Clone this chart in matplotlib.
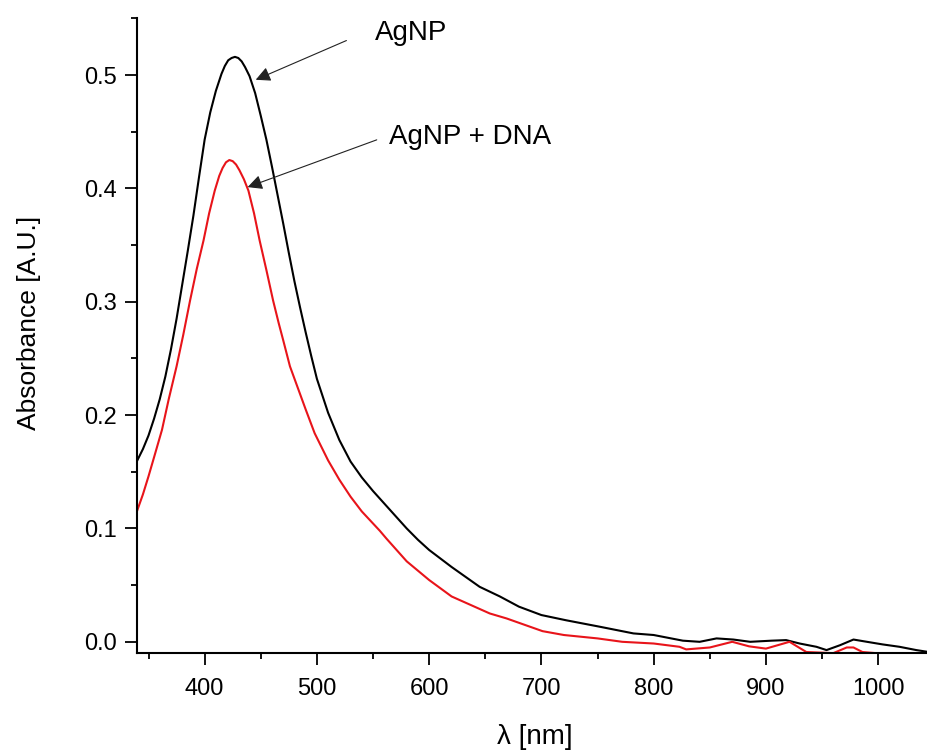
import matplotlib
matplotlib.use("Agg")
import matplotlib.pyplot as plt
from matplotlib.ticker import MultipleLocator

plt.rcParams['font.family'] = ['Liberation Sans', 'DejaVu Sans']

# AgNP (black)
wl_agnp = [340, 345, 350, 355, 360, 365, 370, 375, 380, 385, 390, 395, 400, 405, 410, 415,
           418, 421, 424, 427, 430, 433, 436, 440, 445, 450, 455, 460, 465, 470, 475, 480,
           485, 490, 495, 500, 510, 520, 530, 540, 550, 560, 570, 580, 590, 600, 620, 645,
           663, 680, 700, 722, 752, 782, 800, 826, 841, 856, 871, 886, 905, 918, 930, 945,
           954, 966, 978, 990, 1004, 1019, 1034, 1045]
abs_agnp = [0.160, 0.170, 0.182, 0.197, 0.214, 0.234, 0.258, 0.285, 0.315, 0.345, 0.376, 0.410,
            0.443, 0.467, 0.486, 0.501, 0.508, 0.513, 0.515, 0.516, 0.515, 0.512, 0.507, 0.499,
            0.484, 0.464, 0.443, 0.419, 0.394, 0.369, 0.343, 0.318, 0.295, 0.273, 0.252, 0.232,
            0.202, 0.178, 0.159, 0.145, 0.133, 0.122, 0.111, 0.100, 0.090, 0.081, 0.066, 0.0485,
            0.040, 0.031, 0.0236, 0.019, 0.0133, 0.0074, 0.006, 0.001, 0.000, 0.003, 0.002,
            0.000, 0.001, 0.0015, -0.0015, -0.0044, -0.0073, -0.003, 0.002, 0.000, -0.0023,
            -0.0044, -0.0073, -0.009]

# AgNP + DNA (red)
wl_dna = [340, 345, 350, 355, 362, 368, 375, 381, 387, 393, 399, 404, 409, 413, 416, 419,
          422, 425, 428, 431, 435, 439, 444, 449, 455, 461, 466, 470, 476, 483, 490, 498,
          510, 520, 530, 540, 556, 562, 580, 600, 620, 654, 669, 685, 701, 720, 750, 772,
          800, 823, 829, 850, 870, 885, 900, 921, 936, 960, 972, 978, 986, 998, 1010, 1045]
abs_dna = [0.116, 0.130, 0.146, 0.163, 0.187, 0.214, 0.243, 0.271, 0.301, 0.329, 0.354, 0.378,
           0.398, 0.411, 0.418, 0.423, 0.425, 0.424, 0.421, 0.416, 0.408, 0.398, 0.378, 0.354,
           0.328, 0.301, 0.281, 0.266, 0.243, 0.224, 0.205, 0.184, 0.160, 0.143, 0.128, 0.115,
           0.098, 0.091, 0.071, 0.0545, 0.040, 0.025, 0.0206, 0.015, 0.0094, 0.006, 0.003,
           0.000, -0.0015, -0.0044, -0.0067, -0.005, 0.000, -0.004, -0.006, 0.000, -0.009,
           -0.010, -0.005, -0.005, -0.009, -0.010, -0.012, -0.012]

x_ticks = [400, 500, 600, 700, 800, 900, 1000]
y_ticks = [0.0, 0.1, 0.2, 0.3, 0.4, 0.5]

fig = plt.figure(figsize=(9.27, 7.51), dpi=100)
ax = fig.add_axes([0.1481, 0.130, 0.8519, 0.8456])

ax.plot(wl_agnp, abs_agnp, color='black', lw=1.5)
ax.plot(wl_dna, abs_dna, color='#e8141a', lw=1.5)

ax.set_xlim(340, 1043.5)
ax.set_ylim(-0.0102, 0.55)
ax.set_xticks(x_ticks)
ax.set_yticks(y_ticks)
ax.set_yticklabels([f"{v:.1f}" for v in y_ticks])
ax.xaxis.set_minor_locator(MultipleLocator(50))
ax.yaxis.set_minor_locator(MultipleLocator(0.05))

for s in ['top', 'right']:
    ax.spines[s].set_visible(False)
for s in ['left', 'bottom']:
    ax.spines[s].set_linewidth(1.5)

ax.tick_params(which='major', direction='out', length=8.5, width=1.3, labelsize=17, pad=6)
ax.tick_params(which='minor', direction='out', length=4.5, width=1.3)
ax.tick_params(axis='x', which='major', pad=9)

ax.set_xlabel('λ [nm]', fontsize=20)
ax.set_ylabel('Absorbance [A.U.]', fontsize=19)
ax.xaxis.set_label_coords(0.5036, -0.112)
ax.yaxis.set_label_coords(-0.1215, 0.52)

arrow_kw = dict(arrowstyle='-|>', color='#222222', lw=0.8, mutation_scale=22, shrinkA=0, shrinkB=0)
ax.annotate('', xy=(445.5, 0.4958), xytext=(526.3, 0.5304), arrowprops=arrow_kw)
ax.annotate('', xy=(438.3, 0.4011), xytext=(553.3, 0.4428), arrowprops=arrow_kw)
ax.text(551.5, 0.537, 'AgNP', fontsize=20, va='center', ha='left')
ax.text(564.0, 0.4455, 'AgNP + DNA', fontsize=20, va='center', ha='left')

fig.savefig('out.png', dpi=100)
